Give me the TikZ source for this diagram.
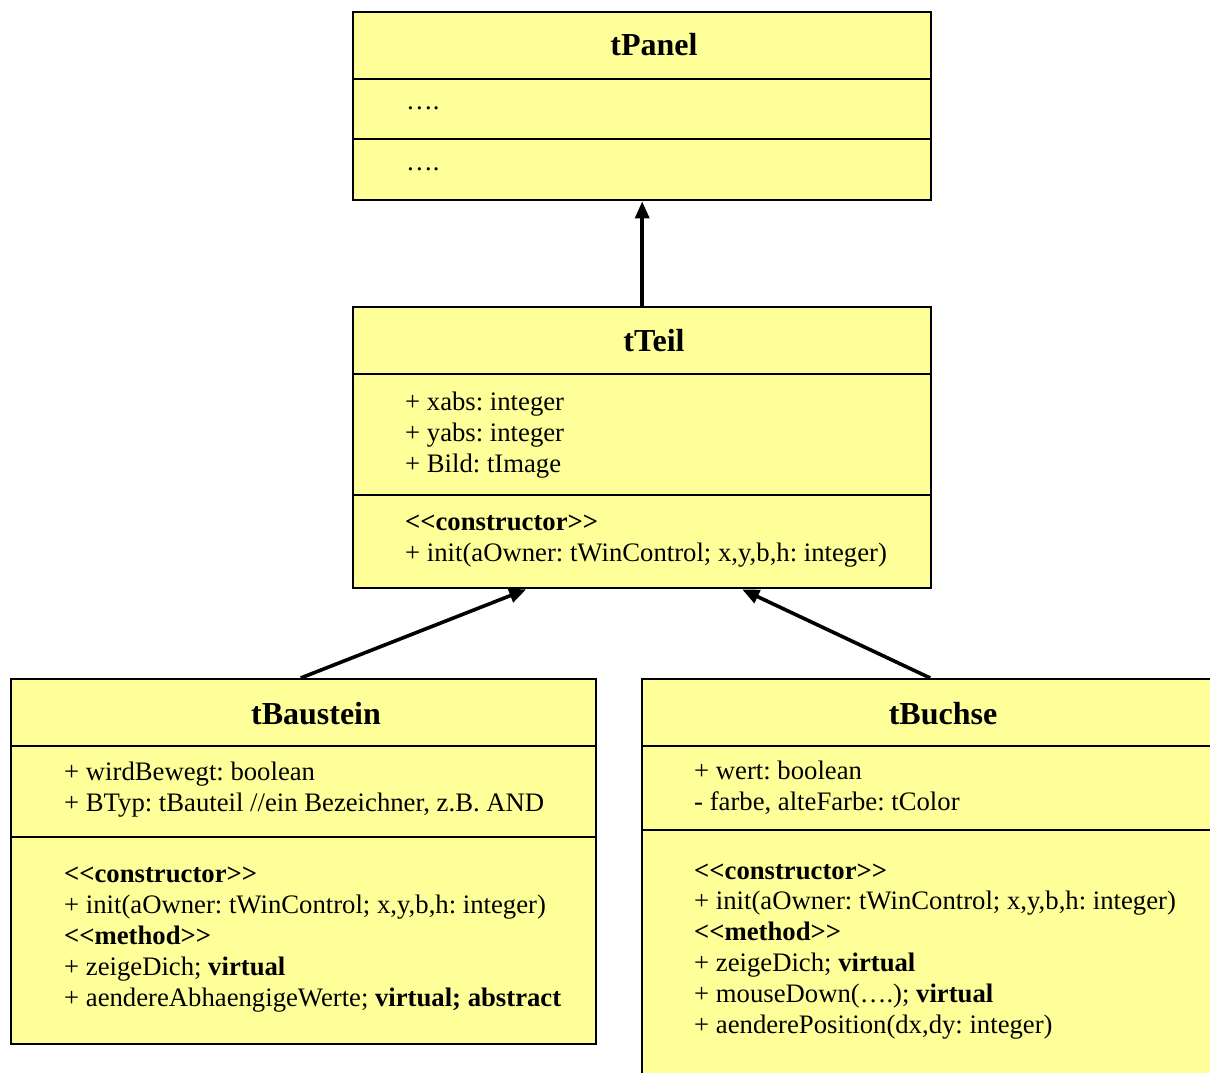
\documentclass[tikz,border=0pt]{standalone}
\usepackage{fontspec}
\setmainfont{Liberation Serif}
\usetikzlibrary{arrows.meta}
\frenchspacing

\definecolor{umlfill}{HTML}{FFFF99}

% stereotype label without guillemet ligatures
\newcommand{\stereo}[1]{\textbf{{<}{<}#1{>}{>}}}

\tikzset{
  classbox/.style={draw=black, fill=umlfill, line width=2.4pt, rectangle,
    inner sep=0pt, anchor=north west},
  divider/.style={draw=black, line width=2.4pt},
  title/.style={anchor=base, inner sep=0pt, font=\fontsize{32pt}{38pt}\selectfont\bfseries},
  member/.style={anchor=base west, inner sep=0pt, font=\fontsize{26.7pt}{31pt}\selectfont},
  inherit/.style={line width=3.6pt, -{Triangle[length=17pt,width=14pt]}}
}

\begin{document}
\begin{tikzpicture}[x=1pt,y=-1pt]
\useasboundingbox (0,0) rectangle (1210,1073);
\clip (0,0) rectangle (1210,1073);

% ---- tPanel ----
\node[classbox, minimum width=578pt, minimum height=188pt] (tPanel) at (352,11) {};
\draw[divider] (352,79) -- (930,79);
\draw[divider] (352,139) -- (930,139);
\node[title] (tPanelName) at (654,56) {tPanel};
\node[member] (tPanelAttr) at (406,110) {….};
\node[member] (tPanelOps) at (406,170) {….};

% ---- tTeil ----
\node[classbox, minimum width=578pt, minimum height=281pt] (tTeil) at (352,306) {};
\draw[divider] (352,374) -- (930,374);
\draw[divider] (352,495) -- (930,495);
\node[title] (tTeilName) at (654,351) {tTeil};
\node[member] (tTeilA1) at (405,410) {+ xabs: integer};
\node[member] (tTeilA2) at (405,441) {+ yabs: integer};
\node[member] (tTeilA3) at (405,472) {+ Bild: tImage};
\node[member] (tTeilM1) at (405,530) {\stereo{constructor}};
\node[member] (tTeilM2) at (405,561) {+ init(aOwner: tWinControl; x,y,b,h: integer)};

% ---- tBaustein ----
\node[classbox, minimum width=585pt, minimum height=365pt] (tBaustein) at (10,678) {};
\draw[divider] (10,746) -- (595,746);
\draw[divider] (10,837) -- (595,837);
\node[title] (tBausteinName) at (316,724) {tBaustein};
\node[member] (tBausteinA1) at (64,780) {+ wirdBewegt: boolean};
\node[member] (tBausteinA2) at (64,811) {+ BTyp: tBauteil //ein Bezeichner, z.B. AND};
\node[member] (tBausteinM1) at (64,882) {\stereo{constructor}};
\node[member] (tBausteinM2) at (64,913) {+ init(aOwner: tWinControl; x,y,b,h: integer)};
\node[member] (tBausteinM3) at (64,944) {\stereo{method}};
\node[member] (tBausteinM4) at (64,975) {+ zeigeDich; \textbf{virtual}};
\node[member] (tBausteinM5) at (64,1006) {+ aendereAbhaengigeWerte; \textbf{virtual; abstract}};

% ---- tBuchse ----
\node[classbox, minimum width=578pt, minimum height=430pt] (tBuchse) at (641,678) {};
\draw[divider] (641,746) -- (1219,746);
\draw[divider] (641,830) -- (1219,830);
\node[title] (tBuchseName) at (943,724) {tBuchse};
\node[member] (tBuchseA1) at (694,779) {+ wert: boolean};
\node[member] (tBuchseA2) at (694,810) {- farbe, alteFarbe: tColor};
\node[member] (tBuchseM1) at (694,879) {\stereo{constructor}};
\node[member] (tBuchseM2) at (694,909) {+ init(aOwner: tWinControl; x,y,b,h: integer)};
\node[member] (tBuchseM3) at (694,940) {\stereo{method}};
\node[member] (tBuchseM4) at (694,971) {+ zeigeDich; \textbf{virtual}};
\node[member] (tBuchseM5) at (694,1002) {+ mouseDown(….); \textbf{virtual}};
\node[member] (tBuchseM6) at (694,1033) {+ aenderePosition(dx,dy: integer)};

% ---- generalisations ----
\draw[inherit] (tTeil.north) -- (tPanel.south);
\draw[inherit] ([xshift=-3pt]tBaustein.north) -- ([xshift=-116pt]tTeil.south);
\draw[inherit] ([xshift=-1pt]tBuchse.north) -- ([xshift=100pt]tTeil.south);
\end{tikzpicture}
\end{document}
